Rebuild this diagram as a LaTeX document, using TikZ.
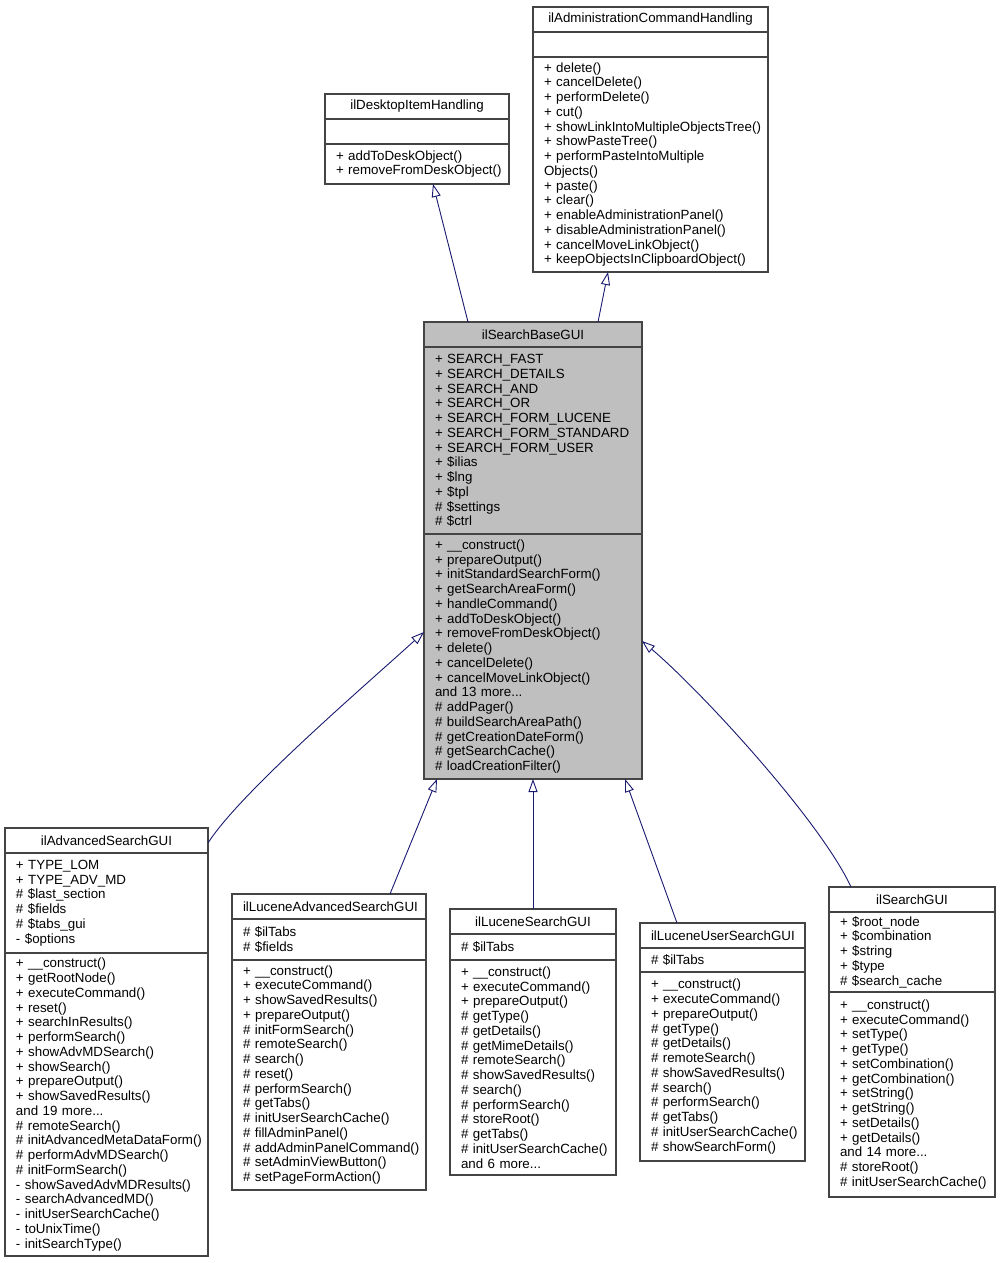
\documentclass[tikz,border=0pt]{standalone}
\usepackage{fontspec}
\setmainfont{Liberation Sans}
\usepackage{xcolor}
\usepackage{tikz}
\usetikzlibrary{arrows.meta}

\definecolor{edgeblue}{HTML}{191970}
\definecolor{basefill}{HTML}{BFBFBF}
\definecolor{boxline}{HTML}{444444}
\newcommand{\classfont}{\fontsize{13.33}{14.75}\selectfont\hyphenpenalty=10000\exhyphenpenalty=10000}

\begin{document}
\begin{tikzpicture}[x=1pt, y=-1pt,
        part/.style={draw=boxline, line width=1.1pt, anchor=north west, outer sep=0pt,
            inner xsep=11pt, inner ysep=0pt, align=left, font=\classfont},
        head/.style={part, align=center, minimum height=25pt},
        base/.style={fill=basefill},
        inherit/.style={draw=edgeblue, line width=0.9pt, -{Triangle[open, length=13pt, width=9pt]}}
    ]
        \useasboundingbox (0,0) rectangle (1000,1263);

        % --- Parents (top) ---
        \node[head, text width=213pt] (achTitle) at (533,7) {ilAdministrationCommandHandling};
        \node[part, text width=213pt, minimum height=25pt] (achAttr) at (533,32) {};
        \node[part, text width=213pt, minimum height=215pt] (achMethods) at (533,57) {%
            + delete()\\ + cancelDelete()\\ + performDelete()\\ + cut()\\
            +~showLinkIntoMultipleObjectsTree()\\ + showPasteTree()\\
            + performPasteIntoMultiple\\ Objects()\\ + paste()\\ + clear()\\
            + enableAdministrationPanel()\\ + disableAdministrationPanel()\\
            + cancelMoveLinkObject()\\ +~keepObjectsInClipboardObject()};

        \node[head, text width=162pt] (dihTitle) at (325,94) {ilDesktopItemHandling};
        \node[part, text width=162pt, minimum height=25pt] (dihAttr) at (325,119) {};
        \node[part, text width=162pt, minimum height=40pt] (dihMethods) at (325,144) {%
            + addToDeskObject()\\ +~removeFromDeskObject()};

        % --- Base class ---
        \node[head, base, text width=196pt] (sbgTitle) at (424,322) {ilSearchBaseGUI};
        \node[part, base, text width=196pt, minimum height=187pt] (sbgAttr) at (424,347) {%
            + SEARCH\_FAST\\ + SEARCH\_DETAILS\\ + SEARCH\_AND\\ + SEARCH\_OR\\
            + SEARCH\_FORM\_LUCENE\\ +~SEARCH\_FORM\_STANDARD\\ + SEARCH\_FORM\_USER\\
            + \$ilias\\ + \$lng\\ + \$tpl\\ \# \$settings\\ \# \$ctrl};
        \node[part, base, text width=196pt, minimum height=245pt] (sbgMethods) at (424,534) {%
            + \_\_construct()\\ + prepareOutput()\\ +~initStandardSearchForm()\\
            + getSearchAreaForm()\\ + handleCommand()\\ + addToDeskObject()\\
            + removeFromDeskObject()\\ + delete()\\ + cancelDelete()\\
            + cancelMoveLinkObject()\\ and 13 more...\\ \# addPager()\\
            \# buildSearchAreaPath()\\ \# getCreationDateForm()\\
            \# getSearchCache()\\ \# loadCreationFilter()};

        % --- Children (bottom row) ---
        \node[head, text width=181pt] (advTitle) at (5,828) {ilAdvancedSearchGUI};
        \node[part, text width=181pt, minimum height=100pt] (advAttr) at (5,853) {%
            + TYPE\_LOM\\ + TYPE\_ADV\_MD\\ \# \$last\_section\\ \# \$fields\\
            \# \$tabs\_gui\\ - \$options};
        \node[part, text width=181pt, minimum height=303pt] (advMethods) at (5,953) {%
            + \_\_construct()\\ + getRootNode()\\ + executeCommand()\\ + reset()\\
            + searchInResults()\\ + performSearch()\\ + showAdvMDSearch()\\
            + showSearch()\\ + prepareOutput()\\ + showSavedResults()\\
            and 19 more...\\ \# remoteSearch()\\ \#~initAdvancedMetaDataForm()\\
            \# performAdvMDSearch()\\ \# initFormSearch()\\ -~showSavedAdvMDResults()\\
            - searchAdvancedMD()\\ - initUserSearchCache()\\ - toUnixTime()\\
            - initSearchType()};

        \node[head, text width=172pt] (latTitle) at (232,894) {ilLuceneAdvancedSearchGUI};
        \node[part, text width=172pt, minimum height=41pt] (latAttr) at (232,919) {%
            \# \$ilTabs\\ \# \$fields};
        \node[part, text width=172pt, minimum height=230pt] (latMethods) at (232,960) {%
            + \_\_construct()\\ + executeCommand()\\ + showSavedResults()\\
            + prepareOutput()\\ \# initFormSearch()\\ \# remoteSearch()\\
            \# search()\\ \# reset()\\ \# performSearch()\\ \# getTabs()\\
            \# initUserSearchCache()\\ \# fillAdminPanel()\\
            \#~addAdminPanelCommand()\\ \# setAdminViewButton()\\
            \# setPageFormAction()};

        \node[head, text width=144pt] (lstTitle) at (450,909) {ilLuceneSearchGUI};
        \node[part, text width=144pt, minimum height=26pt] (lstAttr) at (450,934) {%
            \# \$ilTabs};
        \node[part, text width=144pt, minimum height=215pt] (lstMethods) at (450,960) {%
            + \_\_construct()\\ + executeCommand()\\ + prepareOutput()\\
            \# getType()\\ \# getDetails()\\ \# getMimeDetails()\\
            \# remoteSearch()\\ \#~showSavedResults()\\ \# search()\\
            \# performSearch()\\ \# storeRoot()\\ \# getTabs()\\
            \#~initUserSearchCache()\\ and 6 more...};

        \node[head, text width=143pt] (lusTitle) at (640,923) {ilLuceneUserSearchGUI};
        \node[part, text width=143pt, minimum height=24pt] (lusAttr) at (640,948) {%
            \# \$ilTabs};
        \node[part, text width=143pt, minimum height=189pt] (lusMethods) at (640,972) {%
            + \_\_construct()\\ + executeCommand()\\ + prepareOutput()\\
            \# getType()\\ \# getDetails()\\ \# remoteSearch()\\
            \#~showSavedResults()\\ \# search()\\ \# performSearch()\\
            \# getTabs()\\ \#~initUserSearchCache()\\ \# showSearchForm()};

        \node[head, text width=144pt] (sguiTitle) at (829,887) {ilSearchGUI};
        \node[part, text width=144pt, minimum height=80pt] (sguiAttr) at (829,912) {%
            + \$root\_node\\ + \$combination\\ + \$string\\ + \$type\\
            \# \$search\_cache};
        \node[part, text width=144pt, minimum height=205pt] (sguiMethods) at (829,992) {%
            + \_\_construct()\\ + executeCommand()\\ + setType()\\ + getType()\\
            + setCombination()\\ + getCombination()\\ + setString()\\
            + getString()\\ + setDetails()\\ + getDetails()\\ and 14 more...\\
            \# storeRoot()\\ \#~initUserSearchCache()};

        % --- Inheritance arrows ---
        \draw[inherit] ([xshift=44pt]sbgTitle.north west) -- ([xshift=108pt]dihMethods.south west);
        \draw[inherit] ([xshift=174pt]sbgTitle.north west) -- ([xshift=75pt]achMethods.south west);
        \draw[inherit] ([yshift=-15pt]advTitle.north east) .. controls +(32,-50) and +(-64,58) .. ([yshift=-98pt]sbgMethods.north west);
        \draw[inherit] ([xshift=158pt]latTitle.north west) -- ([xshift=13pt]sbgMethods.south west);
        \draw[inherit] (lstTitle.north) -- (sbgMethods.south);
        \draw[inherit] ([xshift=37pt]lusTitle.north west) -- ([xshift=201pt]sbgMethods.south west);
        \draw[inherit] ([xshift=22pt]sguiTitle.north west) .. controls +(-31,-67) and +(58,49) .. ([yshift=-107pt]sbgMethods.north east);
    \end{tikzpicture}
\end{document}
